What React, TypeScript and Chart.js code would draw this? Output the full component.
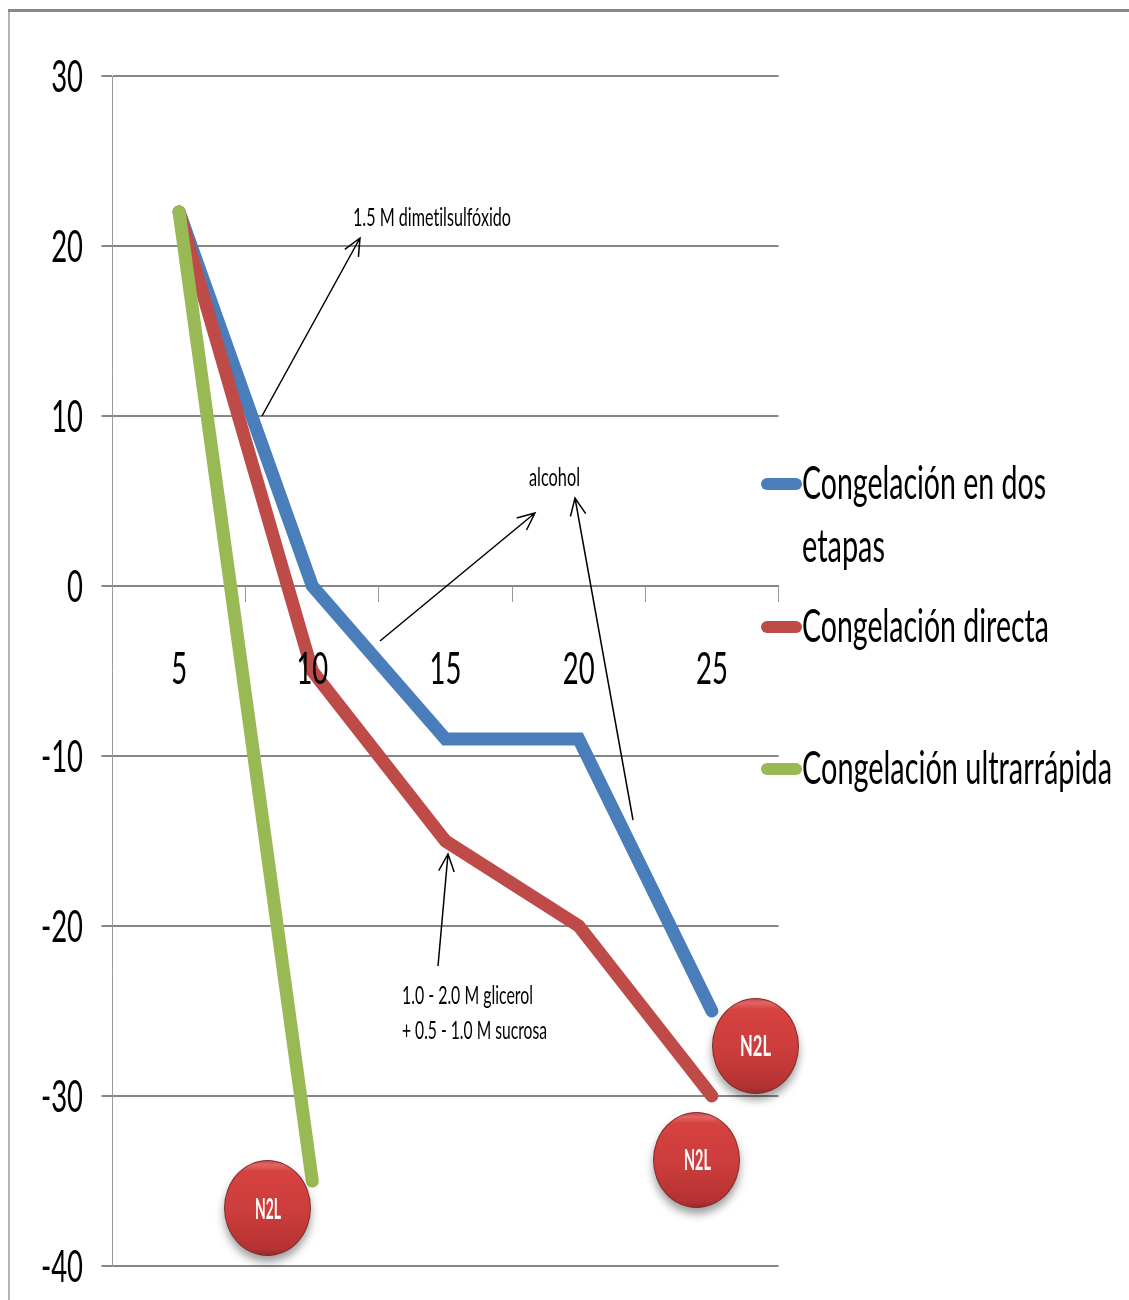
import React, { useEffect, useRef } from "react";
import { Chart, registerables } from "chart.js";

Chart.register(...registerables);

const categories = ["5", "10", "15", "20", "25"];
const dosEtapas = [22, 0, -9, -9, -25];
const directa = [22, -5, -15, -20, -30];
const ultrarrapida = [22, -35, null, null, null];

const seriesColors = ["#4a7ebb", "#be4b48", "#98b954"];
const FONT = "Lato, Carlito, sans-serif";
const TICK_SQUEEZE = 0.61;

type Arrow = [number, number, number, number];
const arrows: Arrow[] = [
  [262, 416, 360, 238],
  [380, 641, 535, 513],
  [633, 820, 575, 498],
  [438, 966, 448, 854],
];

// text, left, baseline, width, font size
type Note = [string, number, number, number, number];
const notes: Note[] = [
  ["1.5 M dimetilsulfóxido", 353, 226, 158, 25],
  ["alcohol", 529, 486, 51, 25],
  ["1.0 - 2.0 M glicerol", 402, 1004, 131, 25],
  ["+ 0.5 - 1.0 M sucrosa", 402, 1039, 145, 25],
];

// swatch centre, then the lines of each legend entry
type LegendRow = { color: number; swatchY: number; lines: Note[] };
const legendRows: LegendRow[] = [
  {
    color: 0,
    swatchY: 484,
    lines: [
      ["Congelación en dos", 802, 499, 244, 46],
      ["etapas", 802, 562, 83, 46],
    ],
  },
  { color: 1, swatchY: 627, lines: [["Congelación directa", 802, 642, 247, 46]] },
  { color: 2, swatchY: 769, lines: [["Congelación ultrarrápida", 802, 784, 310, 46]] },
];

// centre x, centre y, label left, label width, label baseline
const nitrogenBadges: number[][] = [
  [755.5, 1046, 740, 31, 1056],
  [696.5, 1160, 684, 27, 1170],
  [267.5, 1208, 255, 26, 1219],
];

function squeezedText(ctx: CanvasRenderingContext2D, text: string, x: number, y: number, width: number, size: number, color: string, weight = "400") {
  ctx.save();
  ctx.font = `${weight} ${size}px ${FONT}`;
  (ctx as any).textRendering = "optimizeSpeed";
  ctx.fillStyle = color;
  ctx.textAlign = "left";
  ctx.textBaseline = "alphabetic";
  const natural = ctx.measureText(text).width;
  ctx.translate(x, y);
  ctx.scale(width / natural, 1);
  ctx.fillText(text, 0, 0);
  ctx.restore();
}

function tickText(ctx: CanvasRenderingContext2D, text: string, x: number, y: number, align: "right" | "center") {
  ctx.save();
  ctx.font = `400 45px ${FONT}`;
  ctx.fillStyle = "#000000";
  ctx.textAlign = align;
  ctx.textBaseline = "alphabetic";
  ctx.translate(x, y);
  ctx.scale(TICK_SQUEEZE, 1);
  ctx.fillText(text, 0, 0);
  ctx.restore();
}

function drawArrow(ctx: CanvasRenderingContext2D, [x1, y1, x2, y2]: Arrow) {
  const angle = Math.atan2(y2 - y1, x2 - x1);
  const head = 19;
  const spread = 0.42;
  ctx.save();
  ctx.strokeStyle = "#000000";
  ctx.lineWidth = 1.5;
  ctx.beginPath();
  ctx.moveTo(x1, y1);
  ctx.lineTo(x2, y2);
  ctx.moveTo(x2 - head * Math.cos(angle - spread), y2 - head * Math.sin(angle - spread));
  ctx.lineTo(x2, y2);
  ctx.lineTo(x2 - head * Math.cos(angle + spread), y2 - head * Math.sin(angle + spread));
  ctx.stroke();
  ctx.restore();
}

function drawBadge(ctx: CanvasRenderingContext2D, [cx, cy, tx, tw, ty]: number[]) {
  const rx = 43.5;
  const ry = 48;
  ctx.save();
  ctx.shadowColor = "rgba(0,0,0,0.38)";
  ctx.shadowBlur = 9;
  ctx.shadowOffsetY = 6;
  ctx.beginPath();
  ctx.ellipse(cx, cy, rx, ry, 0, 0, Math.PI * 2);
  ctx.fillStyle = "#7f2a2a";
  ctx.fill();
  ctx.restore();

  const body = ctx.createLinearGradient(0, cy - ry, 0, cy + ry);
  body.addColorStop(0, "#c04644");
  body.addColorStop(0.05, "#e26563");
  body.addColorStop(0.12, "#d64240");
  body.addColorStop(0.55, "#cb3d3b");
  body.addColorStop(0.93, "#b43231");
  body.addColorStop(1, "#8f2928");
  ctx.beginPath();
  ctx.ellipse(cx, cy, rx - 1, ry - 1, 0, 0, Math.PI * 2);
  ctx.fillStyle = body;
  ctx.fill();
  squeezedText(ctx, "N2L", tx, ty, tw, 29, "#ffffff", "700");
}

const overlay = {
  id: "overlay",
  beforeDraw(chart: Chart) {
    const ctx = chart.ctx;
    ctx.save();
    ctx.fillStyle = "#ffffff";
    ctx.fillRect(0, 0, chart.width, chart.height);
    ctx.fillStyle = "#b4b4b4";
    ctx.fillRect(8, 10, 2, chart.height - 10);
    ctx.fillStyle = "#888888";
    ctx.fillRect(8, 9, chart.width - 8, 3);
    ctx.restore();
  },
  afterDatasetsDraw(chart: Chart) {
    const ctx = chart.ctx;
    const xScale = chart.scales.x;
    const yScale = chart.scales.y;
    xScale.ticks.forEach((tick, i) => {
      tickText(ctx, String(tick.label), xScale.getPixelForTick(i), yScale.getPixelForValue(0) + 98, "center");
    });
    yScale.ticks.forEach((tick, i) => {
      tickText(ctx, String(tick.label), 83, yScale.getPixelForTick(i) + 15.5, "right");
    });
    arrows.forEach((a) => drawArrow(ctx, a));
    notes.forEach(([t, x, y, w, s]) => squeezedText(ctx, t, x, y, w, s, "#000000"));
    legendRows.forEach((row) => {
      ctx.save();
      ctx.fillStyle = seriesColors[row.color];
      ctx.beginPath();
      ctx.roundRect(761, row.swatchY - 6, 41, 12, 6);
      ctx.fill();
      ctx.restore();
      row.lines.forEach(([t, x, y, w, s]) => squeezedText(ctx, t, x, y, w, s, "#000000"));
    });
    nitrogenBadges.forEach((b) => drawBadge(ctx, b));
  },
};

export default function App() {
  const ref = useRef<HTMLCanvasElement>(null);
  useEffect(() => {
    const line = (label: string, data: (number | null)[], color: string, order: number) => ({
      label,
      data,
      order,
      borderColor: color,
      backgroundColor: color,
      borderWidth: 13,
      borderCapStyle: "round" as const,
      borderJoinStyle: "miter" as const,
      pointRadius: 0,
      tension: 0,
      spanGaps: false,
    });
    const chart = new Chart(ref.current!, {
      type: "line",
      data: {
        labels: categories,
        datasets: [
          line("Congelación en dos etapas", dosEtapas, seriesColors[0], 3),
          line("Congelación directa", directa, seriesColors[1], 2),
          line("Congelación ultrarrápida", ultrarrapida, seriesColors[2], 1),
        ],
      },
      plugins: [overlay],
      options: {
        responsive: false,
        animation: false,
        layout: { padding: { left: 0, top: 76, right: 350.5, bottom: 34 } },
        plugins: { legend: { display: false }, tooltip: { enabled: false }, title: { display: false } },
        scales: {
          x: {
            type: "category",
            offset: true,
            position: { y: 0 },
            afterFit: (s: any) => { s.height = 0; },
            grid: { display: true, drawOnChartArea: false, drawTicks: true, tickLength: 15, color: "#999999", lineWidth: 1, offset: true },
            border: { display: true, color: "#868686", width: 2 },
            ticks: { display: false, autoSkip: false },
          },
          y: {
            min: -40,
            max: 30,
            afterFit: (s: any) => { s.width = 112.5; },
            grid: { color: "#868686", lineWidth: 2, drawTicks: true, tickLength: 11 },
            border: { display: true, color: "#999999", width: 1 },
            ticks: { display: false, stepSize: 10 },
          },
        },
      } as any,
    });
    return () => chart.destroy();
  }, []);
  return (
    <div style={{ position: "absolute", left: 0, top: 0, width: 1129, height: 1300, overflow: "hidden" }}>
      <canvas ref={ref} width={1129} height={1300} style={{ display: "block" }} />
    </div>
  );
}
